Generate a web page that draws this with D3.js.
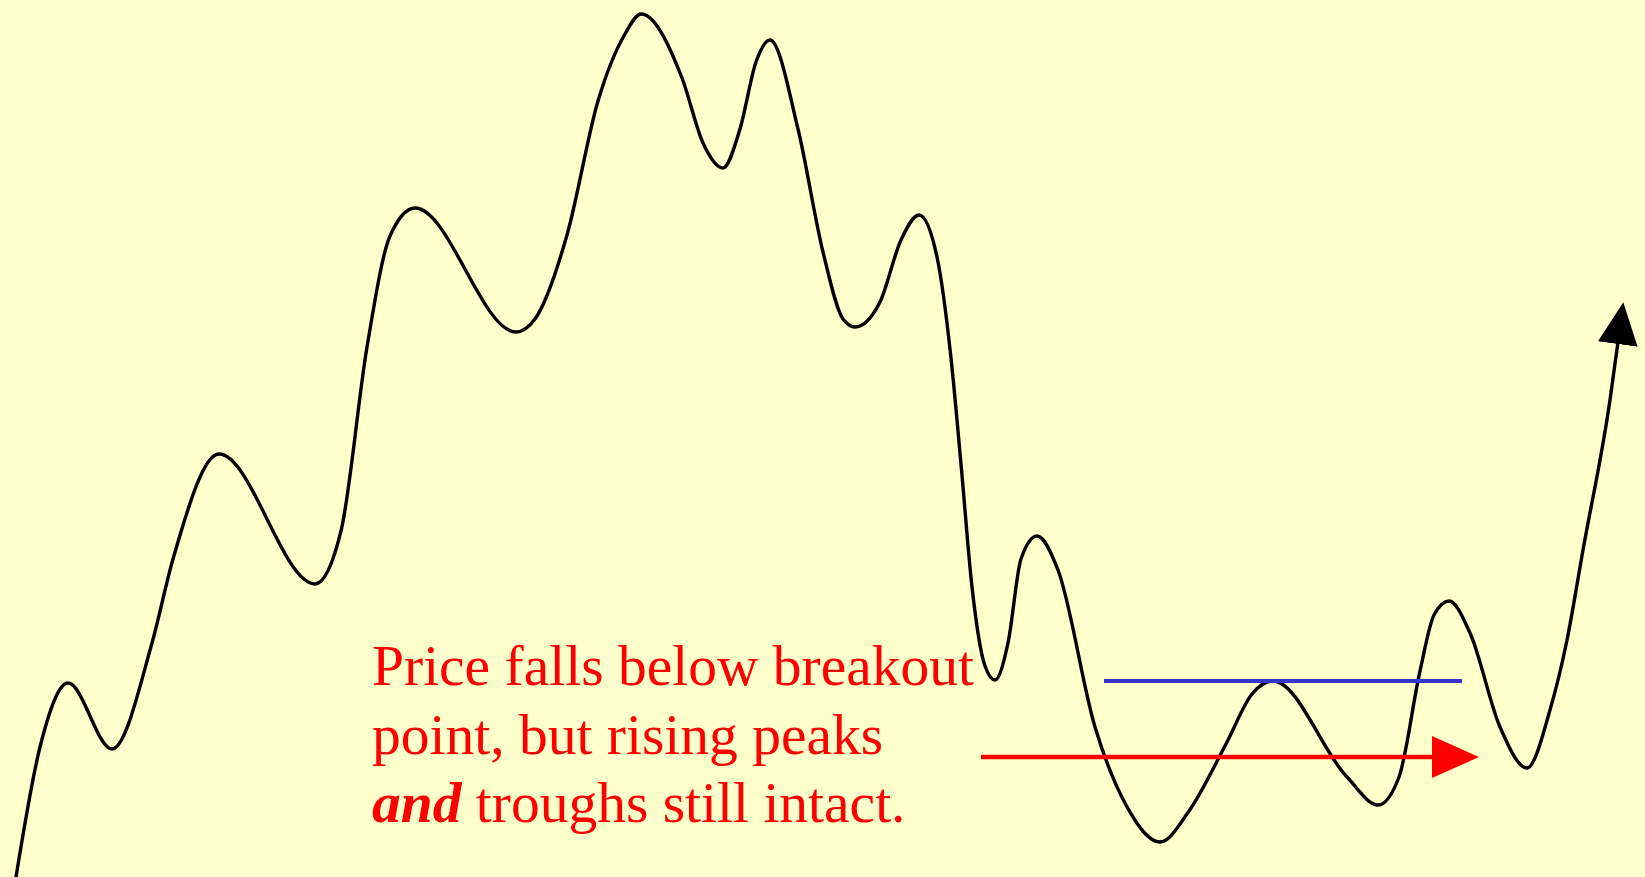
<!DOCTYPE html>
<html>
<head>
<meta charset="utf-8">
<script src="https://cdn.jsdelivr.net/npm/d3@7"></script>
<style>
  html, body { margin: 0; padding: 0; background: #ffffcc; overflow: hidden; }
  svg { display: block; }
</style>
</head>
<body>
<svg id="chart"></svg>
<script>
const size = { w: 1645, h: 877 };

const times = [12, 16, 40, 68, 112, 152, 173, 219, 315, 341, 367, 390, 415, 516, 535, 567, 598, 625, 641,
               682, 703, 723, 740, 756, 770, 798, 823, 843, 855, 880, 901, 919, 937, 951, 961, 972, 985, 995,
               1008, 1021, 1037, 1058, 1095, 1126, 1160, 1189, 1226, 1252, 1273, 1347, 1378,
               1399, 1420, 1434, 1449, 1470, 1500, 1527, 1550, 1567, 1583, 1610, 1618];
const prices = [-25, 0, 130, 194, 128, 234, 318, 423, 293, 346, 530, 641, 669, 545, 558, 642, 776, 843, 863,
                799, 734, 709, 748, 815, 837, 748, 625, 558, 550, 575, 637, 662, 620, 519, 413, 290, 211, 197,
                234, 318, 341, 307, 150, 72, 35, 66, 133, 183, 196, 100, 72,
                100, 206, 262, 276, 244, 150, 109, 167, 237, 327, 477, 535];

const breakoutLevel = 196;             // blue line: breakout point
const breakoutSpan = [1104, 1462];
const trendLevel = 120;                // red arrow: peaks and troughs still rising
const trendSpan = [981, 1479];

const textLines = [
  [{ t: 'Price falls below breakout', bold: false }],
  [{ t: 'point, but rising peaks', bold: false }],
  [{ t: 'and', bold: true }, { t: ' troughs still intact.', bold: false }]
];

const svg = d3.select('#chart')
  .attr('width', size.w)
  .attr('height', size.h);

svg.append('rect')
  .attr('width', size.w)
  .attr('height', size.h)
  .attr('fill', '#ffffcc');

const x = d3.scaleLinear().domain([0, size.w]).range([0, size.w]);
const y = d3.scaleLinear().domain([0, size.h]).range([size.h, 0]);

const defs = svg.append('defs');
defs.append('marker')
  .attr('id', 'head-black')
  .attr('markerUnits', 'userSpaceOnUse')
  .attr('viewBox', '0 -20 42 40')
  .attr('refX', 2).attr('refY', 0)
  .attr('markerWidth', 42).attr('markerHeight', 40)
  .attr('orient', 'auto')
  .append('path')
  .attr('d', 'M0,-20L42,0L0,20Z')
  .attr('fill', '#000');

const pts = times.map((t, i) => [t, prices[i]]);

const line = d3.line()
  .x(d => x(d[0]))
  .y(d => y(d[1]))
  .curve(d3.curveMonotoneX);

svg.append('path')
  .datum(pts)
  .attr('d', line)
  .attr('fill', 'none')
  .attr('stroke', '#000')
  .attr('stroke-width', 3.4)
  .attr('marker-end', 'url(#head-black)');

// blue breakout line
svg.append('line')
  .attr('x1', x(breakoutSpan[0])).attr('x2', x(breakoutSpan[1]))
  .attr('y1', y(breakoutLevel)).attr('y2', y(breakoutLevel))
  .attr('stroke', '#3535cc')
  .attr('stroke-width', 4);

// red arrow
const headLen = 47, headHalf = 21;
svg.append('line')
  .attr('x1', x(trendSpan[0])).attr('x2', x(trendSpan[1]) - headLen + 2)
  .attr('y1', y(trendLevel)).attr('y2', y(trendLevel))
  .attr('stroke', '#ff0000')
  .attr('stroke-width', 4.5);
svg.append('path')
  .attr('d', d3.line()([
    [x(trendSpan[1]) - headLen, y(trendLevel) - headHalf],
    [x(trendSpan[1]), y(trendLevel)],
    [x(trendSpan[1]) - headLen, y(trendLevel) + headHalf]
  ]) + 'Z')
  .attr('fill', '#ff0000');

// annotation
const txt = svg.append('text')
  .attr('font-family', '"Liberation Serif", "Times New Roman", serif')
  .attr('font-size', 57.5)
  .attr('fill', '#ff0000');

const baselines = [685, 754, 822];
textLines.forEach((parts, i) => {
  const tl = txt.append('tspan')
    .attr('x', 372)
    .attr('y', baselines[i]);
  parts.forEach((p, j) => {
    const s = j === 0 ? tl : txt.append('tspan');
    s.text(p.t)
      .attr('font-weight', p.bold ? 'bold' : 'normal')
      .attr('font-style', p.bold ? 'italic' : 'normal')
      .style('white-space', 'pre');
  });
});
</script>
</body>
</html>
